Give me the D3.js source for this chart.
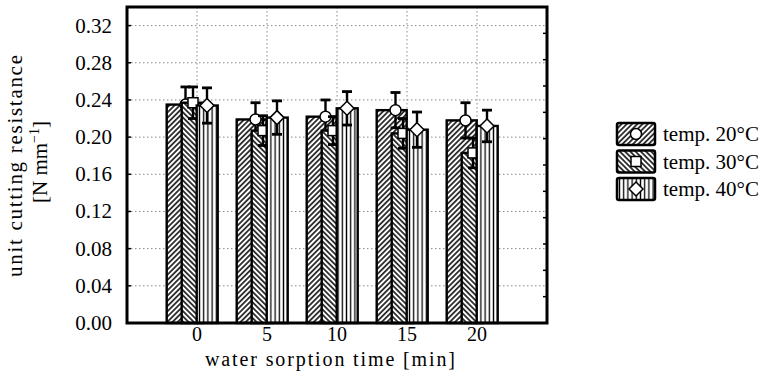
<!DOCTYPE html>
<html><head><meta charset="utf-8">
<script src="https://cdn.jsdelivr.net/npm/d3@7"></script>
<style>body{margin:0;background:#fff}svg{display:block}</style>
</head><body><svg id="c" width="774" height="384"></svg>
<script>
const categories = ["0", "5", "10", "15", "20"];
const seriesNames = ["temp. 20°C", "temp. 30°C", "temp. 40°C"];
const mean20 = [0.235, 0.219, 0.222, 0.229, 0.218];
const mean30 = [0.237, 0.207, 0.207, 0.204, 0.183];
const mean40 = [0.234, 0.221, 0.231, 0.208, 0.212];
const err20 = [0.019, 0.018, 0.018, 0.019, 0.019];
const err30 = [0.017, 0.016, 0.015, 0.016, 0.016];
const err40 = [0.019, 0.018, 0.018, 0.019, 0.017];
const yTicks = [0, 0.04, 0.08, 0.12, 0.16, 0.20, 0.24, 0.28, 0.32];
const yTickLabels = ["0.00", "0.04", "0.08", "0.12", "0.16", "0.20", "0.24", "0.28", "0.32"];
const xTitle = "water sorption time [min]";
const yTitle1 = "unit cutting resistance";

const means = [mean20, mean30, mean40];
const errs = [err20, err30, err40];

const svg = d3.select("#c");
const FONT = "'Liberation Serif', serif";
const L = 127, R = 547, T = 7, B = 323;

const x = d3.scaleLinear().domain([-1, categories.length]).range([L, R]);
const y = d3.scaleLinear().domain([0, 0.34]).range([B, T]);
const y2 = d3.scaleLinear().domain([0, 12]).range([B, T]);

// patterns
const defs = svg.append("defs");
function hatch(id, angle, size, sw) {
  const p = defs.append("pattern").attr("id", id).attr("patternUnits", "userSpaceOnUse")
    .attr("width", size).attr("height", size);
  if (angle) p.attr("patternTransform", `rotate(${angle})`);
  p.append("rect").attr("width", size).attr("height", size).attr("fill", "#fff");
  p.append("line").attr("x1", size / 2).attr("x2", size / 2).attr("y1", -1).attr("y2", size + 1)
    .attr("stroke", "#000").attr("stroke-width", sw);
}
hatch("p0", 45, 3.7, 1.5);
hatch("p1", -45, 3.7, 1.5);
hatch("p2", 0, 4.2, 1.3);

// grid
const grid = svg.append("g").attr("stroke", "#8a8a8a").attr("stroke-width", 1).attr("stroke-dasharray", "1.5,2.5");
grid.selectAll("line.h").data(yTicks.filter(d => d > 0)).enter().append("line")
  .attr("x1", L).attr("x2", R).attr("y1", d => y(d)).attr("y2", d => y(d));
grid.selectAll("line.v").data(categories).enter().append("line")
  .attr("x1", (d, i) => x(i)).attr("x2", (d, i) => x(i)).attr("y1", T).attr("y2", B);

// bars, error bars, markers
const barW = [30, 21, 21], barOff = [-30.3, -15.3, -0.3];
const markerOff = [-11.5, -4, 10];
function marker(g, s, cx, cy) {
  const st = { fill: "#fff", stroke: "#000", "stroke-width": 1.5 };
  let m;
  if (s === 0) m = g.append("circle").attr("cx", cx).attr("cy", cy).attr("r", 5.5);
  else if (s === 1) m = g.append("rect").attr("x", cx - 5).attr("y", cy - 5).attr("width", 10).attr("height", 10);
  else m = g.append("path").attr("d", `M${cx},${cy - 7}L${cx + 7},${cy}L${cx},${cy + 7}L${cx - 7},${cy}Z`);
  Object.entries(st).forEach(([k, v]) => m.attr(k, v));
}
const plot = svg.append("g");
for (let s = 0; s < 3; s++) {
  const g = plot.append("g");
  categories.forEach((c, i) => {
    const cx = x(i);
    const m = means[s][i], e = errs[s][i];
    g.append("rect").attr("x", cx + barOff[s]).attr("width", barW[s])
      .attr("y", y(m)).attr("height", y(0) - y(m))
      .attr("fill", `url(#p${s})`).attr("stroke", "#000").attr("stroke-width", 2.4);
    const mx = cx + markerOff[s];
    g.append("line").attr("x1", mx).attr("x2", mx).attr("y1", y(m + e)).attr("y2", y(m - e))
      .attr("stroke", "#000").attr("stroke-width", 2.4);
    [m + e, m - e].forEach(v => g.append("line").attr("x1", mx - 5).attr("x2", mx + 5)
      .attr("y1", y(v)).attr("y2", y(v)).attr("stroke", "#000").attr("stroke-width", 2.8));
    marker(g, s, mx, y(m));
  });
}

// ticks
const ax = svg.append("g").attr("stroke", "#000").attr("stroke-width", 1.5);
ax.selectAll("line.l").data(yTicks).enter().append("line")
  .attr("x1", L).attr("x2", L + 4).attr("y1", d => y(d)).attr("y2", d => y(d));
ax.selectAll("line.r").data(y2.ticks(12).filter(d => d > 0 && d < 12)).enter().append("line")
  .attr("x1", R - 4).attr("x2", R).attr("y1", d => y2(d)).attr("y2", d => y2(d));

// frame
svg.append("rect").attr("x", L).attr("y", T).attr("width", R - L).attr("height", B - T)
  .attr("fill", "none").attr("stroke", "#000").attr("stroke-width", 3);

// tick labels
svg.append("g").selectAll("text").data(yTicks).enter().append("text")
  .attr("x", 112).attr("y", d => y(d) + 7).attr("text-anchor", "end")
  .attr("font-family", FONT).attr("font-size", 21).text((d, i) => yTickLabels[i]);
svg.append("g").selectAll("text").data(categories).enter().append("text")
  .attr("x", (d, i) => x(i)).attr("y", 341).attr("text-anchor", "middle")
  .attr("font-family", FONT).attr("font-size", 20).text(d => d);

// axis titles
svg.append("text").attr("x", 330).attr("y", 366).attr("text-anchor", "middle")
  .attr("font-family", FONT).attr("font-size", 20).attr("textLength", 250).attr("lengthAdjust", "spacing")
  .text(xTitle);
svg.append("text").attr("transform", "translate(22,166) rotate(-90)").attr("text-anchor", "middle")
  .attr("font-family", FONT).attr("font-size", 21).attr("textLength", 222).attr("lengthAdjust", "spacing")
  .text(yTitle1);
const t2 = svg.append("text").attr("transform", "translate(47,162) rotate(-90)").attr("text-anchor", "middle")
  .attr("font-family", FONT).attr("font-size", 21);
t2.append("tspan").text("[N mm");
t2.append("tspan").attr("font-size", 14).attr("dy", -8).text("−1");
t2.append("tspan").attr("dy", 8).text("]");

// legend
const legY = [123, 150.5, 178];
seriesNames.forEach((name, s) => {
  const g = svg.append("g");
  g.append("rect").attr("x", 617).attr("y", legY[s]).attr("width", 38).attr("height", 22).attr("rx", 2)
    .attr("fill", `url(#p${s})`).attr("stroke", "#000").attr("stroke-width", 2.5);
  marker(g, s, 636, legY[s] + 11);
  g.append("text").attr("x", 663).attr("y", legY[s] + 18).attr("font-family", FONT).attr("font-size", 21)
    .text(name);
});
</script></body></html>
